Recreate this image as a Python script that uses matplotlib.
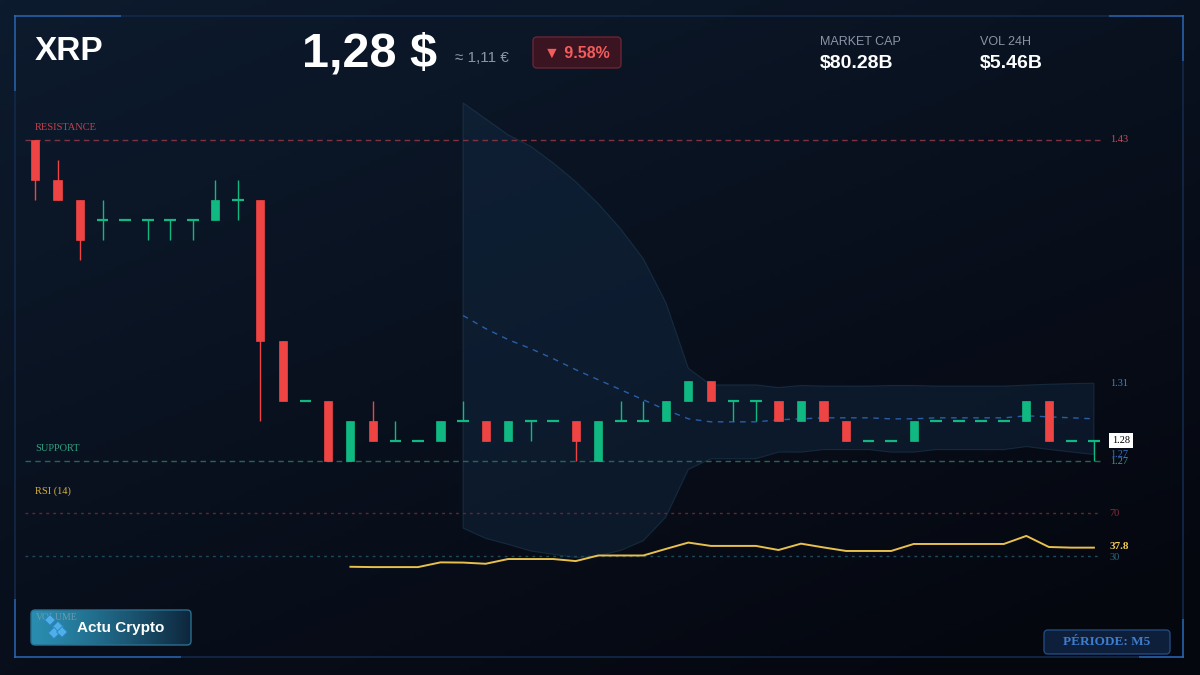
import matplotlib
matplotlib.use("Agg")
import matplotlib.pyplot as plt
import numpy as np
import pandas as pd
from matplotlib.patches import FancyBboxPatch, Rectangle

# --- données (bougies M5) ---
opens = [1.43, 1.41, 1.40, 1.39, 1.39, 1.39, 1.39, 1.39, 1.39, 1.40,
         1.40, 1.33, 1.30, 1.30, 1.27, 1.29, 1.28, 1.28, 1.28, 1.29,
         1.29, 1.28, 1.29, 1.29, 1.29, 1.27, 1.29, 1.29, 1.29, 1.30,
         1.31, 1.30, 1.30, 1.30, 1.29, 1.30, 1.29, 1.28, 1.28, 1.28,
         1.29, 1.29, 1.29, 1.29, 1.29, 1.30, 1.28, 1.28]
highs = [1.43, 1.42, 1.40, 1.40, 1.39, 1.39, 1.39, 1.39, 1.41, 1.41,
         1.40, 1.33, 1.30, 1.30, 1.29, 1.30, 1.29, 1.28, 1.29, 1.30,
         1.29, 1.29, 1.29, 1.29, 1.29, 1.29, 1.30, 1.30, 1.30, 1.31,
         1.31, 1.30, 1.30, 1.30, 1.30, 1.30, 1.29, 1.28, 1.28, 1.29,
         1.29, 1.29, 1.29, 1.29, 1.30, 1.30, 1.28, 1.28]
lows = [1.40, 1.40, 1.37, 1.38, 1.39, 1.38, 1.38, 1.38, 1.39, 1.39,
        1.29, 1.30, 1.30, 1.27, 1.27, 1.28, 1.28, 1.28, 1.28, 1.29,
        1.28, 1.28, 1.28, 1.29, 1.27, 1.27, 1.29, 1.29, 1.29, 1.30,
        1.30, 1.29, 1.29, 1.29, 1.29, 1.29, 1.28, 1.28, 1.28, 1.28,
        1.29, 1.29, 1.29, 1.29, 1.29, 1.28, 1.28, 1.27]
closes = [1.41, 1.40, 1.38, 1.39, 1.39, 1.39, 1.39, 1.39, 1.40, 1.40,
          1.33, 1.30, 1.30, 1.27, 1.29, 1.28, 1.28, 1.28, 1.29, 1.29,
          1.28, 1.29, 1.29, 1.29, 1.28, 1.29, 1.29, 1.29, 1.30, 1.31,
          1.30, 1.30, 1.30, 1.29, 1.30, 1.29, 1.28, 1.28, 1.28, 1.29,
          1.29, 1.29, 1.29, 1.29, 1.30, 1.28, 1.28, 1.28]

# RSI (14), à partir de la 15e bougie
rsi_values = [20.0, 19.7, 19.7, 19.7, 24.1, 23.9, 22.8, 27.2, 27.2, 27.2,
              25.3, 30.5, 30.5, 30.5, 36.6, 42.5, 39.4, 39.4, 39.4, 35.6,
              41.5, 38.0, 34.7, 34.7, 34.7, 41.2, 41.2, 41.2, 41.2, 41.2,
              48.7, 38.4, 37.8, 37.8]

resistance = 1.43
support = 1.27
rsi_levels = [70, 30]

RED = "#ef4444"
GREEN = "#10b981"
BG = "#070c18"

n = len(closes)
idx = np.arange(n)

fig = plt.figure(figsize=(12, 6.75), dpi=100, facecolor=BG)

# fond en dégradé + cadre (repère en pixels)
bg = fig.add_axes([0, 0, 1, 1])
bg.set_xlim(0, 1200)
bg.set_ylim(675, 0)
bg.axis("off")
gx, gy = np.meshgrid(np.linspace(0, 1, 240), np.linspace(0, 1, 135))
grad = 1 - np.clip(0.55 * gx + 0.75 * gy, 0, 1.2) / 1.2
c0 = np.array([5, 7, 15]) / 255
c1 = np.array([13, 27, 46]) / 255
img = c0 + (c1 - c0) * grad[..., None]
bg.imshow(img, extent=[0, 1200, 675, 0], aspect="auto", zorder=0)
bg.add_patch(Rectangle((15, 16), 1168, 641, fill=False, ec="#13294a", lw=1.2, zorder=1))
for seg in [((15, 15), (16, 90)), ((15, 120), (16, 16)), ((1183, 1183), (16, 60)),
            ((1110, 1183), (16, 16)), ((15, 15), (600, 657)), ((15, 180), (657, 657)),
            ((1183, 1183), (620, 657)), ((1140, 1183), (657, 657))]:
    bg.plot(seg[0], seg[1], color="#2a68b8", lw=1.4, alpha=0.7, zorder=2)

# en-tête
hdr = dict(family="Liberation Sans", fontweight="bold", color="white")
bg.text(35, 60, "XRP", fontsize=24, va="baseline", **hdr)
bg.text(302, 66, "1,28 $", fontsize=35, va="baseline", **hdr)
bg.text(455, 62, "≈ 1,11 €", fontsize=11, va="baseline", color="#8a94a6",
        family=["Liberation Sans", "DejaVu Sans"])
bg.add_patch(FancyBboxPatch((533, 37), 88, 31, boxstyle="round,pad=0,rounding_size=4",
                            fc="#3a1420", ec="#6a2434", lw=1, zorder=3))
bg.text(577, 53, "▼ 9.58%", fontsize=11.5, ha="center", va="center", color="#f25c5c",
        fontweight="bold", family=["Liberation Sans", "DejaVu Sans"], zorder=4)
bg.text(820, 45, "MARKET CAP", fontsize=9, color="#8a94a6", family="Liberation Sans", va="baseline")
bg.text(820, 68, "$80.28B", fontsize=14, va="baseline", **hdr)
bg.text(980, 45, "VOL 24H", fontsize=9, color="#8a94a6", family="Liberation Sans", va="baseline")
bg.text(980, 68, "$5.46B", fontsize=14, va="baseline", **hdr)

# badge Actu Crypto
badge = FancyBboxPatch((31, 610), 160, 35, boxstyle="round,pad=0,rounding_size=4",
                       fc="none", ec="#2a6f8f", lw=1, zorder=5)
bg.add_patch(badge)
bgrad = np.linspace(0, 1, 200)[None, :] ** 1.3
col_a = np.array([42, 141, 176]) / 255
col_b = np.array([14, 38, 60]) / 255
bimg = col_a + (col_b - col_a) * bgrad[..., None]
im = bg.imshow(bimg, extent=[31, 191, 645, 610], aspect="auto", zorder=4)
im.set_clip_path(badge)
bg.text(36, 618, "VOLUME", fontsize=7, color="#6f9ab0", family="Liberation Serif", zorder=6, va="center")
bg.scatter([50, 58, 54, 62], [620, 627, 633, 632], marker="D", s=[30, 34, 34, 30],
           color="#4fb0e8", ec="#2a80c0", lw=0.6, zorder=6)
bg.text(77, 628, "Actu Crypto", fontsize=11, va="center", zorder=6, **hdr)

# badge période
bg.add_patch(FancyBboxPatch((1044, 630), 126, 24, boxstyle="round,pad=0,rounding_size=4",
                            fc="#0d1f3a", ec="#1f4a80", lw=1, zorder=3))
bg.text(1107, 642, "PÉRIODE: M5", fontsize=9.5, ha="center", va="center", color="#3d7dd0",
        family="Liberation Serif", fontweight="bold", zorder=4)

# axe des prix
px_step = 22.53
x_left, x_right = (20 - 35) / px_step, (1180 - 35) / px_step
ax = fig.add_axes([20 / 1200, 75 / 675, 1160 / 1200, 510 / 675])
ax.set_xlim(x_left, x_right)
ax.set_ylim(resistance - 460 / 2006, resistance + 50 / 2006)
ax.axis("off")
ax.patch.set_alpha(0)

# bandes de Bollinger (20, 2)
s = pd.Series(closes)
mid = s.rolling(20).mean()
sd = s.rolling(20).std(ddof=0)
upper = (mid + 2 * sd).values
lower = (mid - 2 * sd).values
ok = ~np.isnan(mid.values)
bx = idx[ok]
ax.fill(np.r_[bx, bx[::-1]], np.r_[upper[ok], lower[ok][::-1]],
        fc="#16324f", alpha=0.35, ec="#2c5470", lw=0.8, zorder=1)
ax.plot(bx, mid.values[ok], color="#2a5ea8", lw=1, dashes=(4, 4), zorder=2)

# supports / résistances
ax.hlines(resistance, -0.45, n - 0.7, colors="#7e3242", lw=1, linestyles=(0, (4, 3)), zorder=1)
ax.hlines(support, -0.45, n - 0.7, colors="#27655a", lw=1, linestyles=(0, (4, 3)), zorder=1)
serif = dict(family="Liberation Serif")
ax.text(0, resistance + 0.005, "RESISTANCE", fontsize=7.5, color="#c2424e", va="baseline", **serif)
ax.text(0, support + 0.005, "SUPPORT", fontsize=7.5, color="#2fa283", va="baseline", **serif)

# bougies
width = 0.36
for i in idx:
    o, h, l, c = opens[i], highs[i], lows[i], closes[i]
    col = GREEN if c >= o else RED
    ax.vlines(i, l, h, color=col, lw=1, zorder=3)
    if abs(c - o) < 1e-9:
        ax.hlines(o, i - width / 2 - 0.08, i + width / 2 + 0.08, color=col, lw=1.6, zorder=4)
    else:
        ax.bar(i, abs(c - o), width=width, bottom=min(o, c), color=col, zorder=4,
               edgecolor=col, lw=0.5)

# étiquettes à droite
lx = n - 1 + 0.7
ax.text(lx, resistance, f"{resistance:.2f}", fontsize=7.5, color="#d04a52", va="center", **serif)
ax.text(lx, upper[-1], f"{upper[-1]:.2f}", fontsize=7.5, color="#3a86c0", va="center", **serif)
ax.text(lx, lower[-1], f"{lower[-1]:.2f}", fontsize=7.5, color="#3a6cc0", va="center", **serif)
ax.text(lx, support - 0.0005, f"{support:.2f}", fontsize=7.5, color="#2fa283", va="center", **serif)
ax.text(lx + 0.1, closes[-1], f"{closes[-1]:.2f}", fontsize=7.5, color="black", va="center",
        bbox=dict(fc="white", ec="none", pad=2.2), **serif)

# RSI
rx = fig.add_axes([20 / 1200, 75 / 675, 1160 / 1200, 120 / 675])
rx.set_xlim(x_left, x_right)
rx.set_ylim(-10.9, 100.7)
rx.axis("off")
rx.patch.set_alpha(0)
rx.hlines(rsi_levels[0], -0.45, n - 0.7, colors="#6a2434", lw=1, linestyles=(0, (2, 3)))
rx.hlines(rsi_levels[1], -0.45, n - 0.7, colors="#1f4c5c", lw=1, linestyles=(0, (2, 3)))
rsi_x = idx[n - len(rsi_values):]
rx.plot(rsi_x, rsi_values, color="#e8c04e", lw=1.4, zorder=3)
rx.text(0, 90, "RSI (14)", fontsize=7.5, color="#d8b040", va="center", **serif)
rx.text(lx, rsi_levels[0], "70", fontsize=7.5, color="#8a2a3c", va="center", **serif)
rx.text(lx, rsi_levels[1] - 1.5, "30", fontsize=7.5, color="#2a6a7c", va="center", **serif)
rx.text(lx, rsi_values[-1] + 1, f"{rsi_values[-1]:.1f}", fontsize=8, color="#f0cc58",
        va="center", fontweight="bold", **serif)

fig.savefig("out.png", dpi=100, facecolor=BG)
